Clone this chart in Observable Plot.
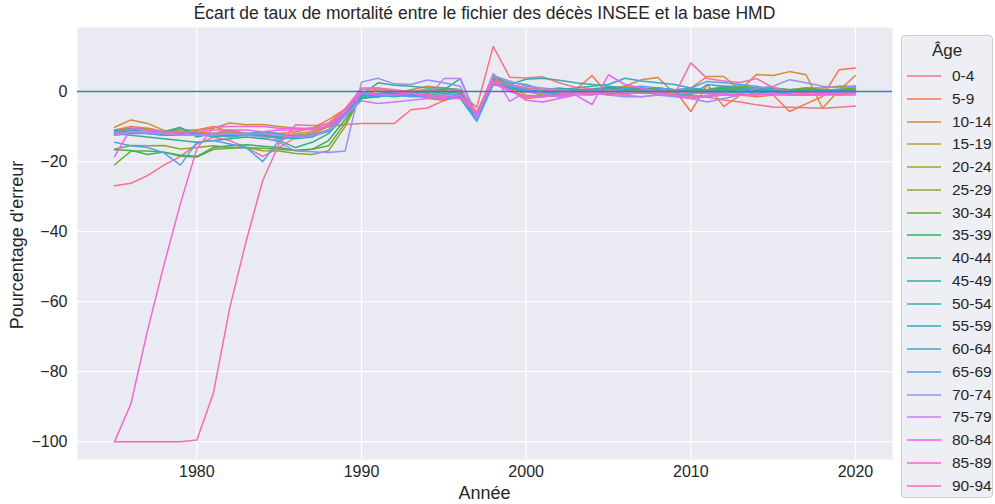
<!DOCTYPE html>
<html>
<head>
<meta charset="utf-8">
<script src="https://cdn.jsdelivr.net/npm/d3@7"></script>
<script src="https://cdn.jsdelivr.net/npm/@observablehq/plot@0.6"></script>
<style>
  body { margin: 0; background: #ffffff; }
  #wrap { position: relative; width: 995px; height: 504px; font-family: "Liberation Sans", Arial, sans-serif; color: #262626; }
  #title { position: absolute; left: 77px; width: 815px; top: 3px; text-align: center; font-size: 17.5px; }
  #xlabel { position: absolute; left: 77px; width: 815px; top: 483px; text-align: center; font-size: 18px; }
  #ylabel { position: absolute; left: 17px; top: 245px; transform: translate(-50%, -50%) rotate(-90deg); white-space: nowrap; font-size: 18px; }
  #legend { position: absolute; left: 901px; top: 35px; width: 92px; height: 463px; box-sizing: border-box; border: 1px solid #cccccc; border-radius: 4px; background: rgba(234,234,242,0.8); }
  #legend .lt { position: absolute; left: 0; width: 90px; top: 5px; text-align: center; font-size: 17px; }
  #legend .row { position: absolute; left: 0; height: 20px; width: 90px; }
  #legend svg { position: absolute; left: 4px; top: 0; }
  #legend .tx { position: absolute; left: 50px; top: 1px; font-size: 15.5px; white-space: nowrap; }
</style>
</head>
<body>
<div id="wrap">
  <div id="chart"></div>
  <div id="title"></div>
  <div id="xlabel"></div>
  <div id="ylabel"></div>
  <div id="legend"></div>
</div>
<script>
const titleText = "Écart de taux de mortalité entre le fichier des décès INSEE et la base HMD";
const xLabelText = "Année";
const yLabelText = "Pourcentage d'erreur";
const legendTitle = "Âge";

const years = d3.range(1975, 2021);
const ages = ["0-4","5-9","10-14","15-19","20-24","25-29","30-34","35-39","40-44","45-49","50-54","55-59","60-64","65-69","70-74","75-79","80-84","85-89","90-94"];
const xTicks = [1980, 1990, 2000, 2010, 2020];
const yTicks = [0, -20, -40, -60, -80, -100];

const s0_4   = [-26.9,-26.2,-24,-21,-18.5,-15,-13,-14,-16,-18.5,-16,-13,-12,-10,-9.4,-9.1,-9.1,-9.1,-5.2,-4.7,-2.6,-0.5,-4.5,12.9,4.1,3.9,4.2,2.5,1.2,0.8,1.2,0.5,-0.3,-0.8,-1,-1.4,-1.6,-2.4,-3,-3.8,-4.4,-4.5,-4.6,-4.8,-4.5,-4.1];
const s5_9   = [-11,-10,-10.5,-11.5,-12,-11,-10,-11.5,-12,-12.5,-12,-11.5,-10.5,-8,-5,-1,1,-0.5,-1,-1.5,-2.5,-1.5,-6,3,0.5,-1.5,-1,0,0.5,4.6,-1,0,1,-1,0.5,-5.7,2,-4.3,-1,-1.5,-1,-5.7,-3.5,-1.4,6.2,6.7];
const s10_14 = [-10.2,-8.1,-9.1,-11.1,-11.5,-11.5,-12,-11,-12,-12.5,-13,-12,-11.5,-9.5,-6,-1.5,0.5,-1,-0.5,-2,-2.5,-1,-7,4.5,1,-2,-1.5,-1,-0.5,0,0.5,1.5,3.4,4,-0.5,1,4.3,4.3,0.5,4.9,4.6,5.7,4.8,-4.7,0.3,4.6];
const s15_19 = [-11.5,-11,-10.5,-11.5,-11,-11,-10.5,-9,-9.5,-9.4,-10,-10.5,-10.5,-9,-5,-0.5,-1,-0.5,0.5,1.5,1,0.5,-6.5,5,1.5,-1,-1.5,-1,-0.5,-0.5,0.5,1,1,0,-0.5,-1,-1.5,0,1,0.5,1,-1,-0.5,0.5,0,1];
const s20_24 = [-12,-11.5,-11.5,-12.5,-12.5,-12,-12,-11.5,-12,-13,-13,-12.5,-12,-10,-6,-2,-1,0,0,0.5,0,0.5,-6,4,1,0,-1,-1.5,-0.5,0,1,1.5,0.5,0,0.5,0,0.5,1,1,0.5,0,-1,-0.5,0,0.5,1.5];
const s25_29 = [-16.5,-15.4,-15.5,-15.4,-16.4,-16,-15.5,-16,-16,-16.9,-17,-17.7,-18,-16.9,-10,-1,-1.5,-0.5,0,0.5,0.5,0,-6,3.5,1.5,0.5,-0.5,-1,0,0.5,1,0.5,0,1,0.5,0,0.5,1.5,1.5,1,1,0.5,1,1,1.5,1.5];
const s30_34 = [-20.9,-17,-17,-17.3,-18.5,-18.7,-16.5,-16.2,-16,-16.2,-16.5,-16.8,-16.5,-15.5,-9,-1.5,-1,-0.5,0,0,0.5,0,-6.5,2.5,1,0,-0.5,0,0.5,0.5,1,1,0.5,1,0.5,-0.5,0.5,1,1.5,1,0.5,0.5,1,0.5,0.5,1];
const s35_39 = [-16.6,-16.8,-18,-17.3,-18.2,-18.5,-16,-15.5,-15.2,-15.6,-16,-16.8,-16.5,-14,-8,-2,-1.5,-0.5,0,-0.5,0,-0.5,-7,2,1,0.5,-0.5,0,0,0.5,1,0.5,1,0.5,0,0.5,0.5,1,1,0.5,1,0.5,0.5,0.5,0.5,0.5];
const s40_44 = [-12,-12.5,-13,-13.5,-14,-14.5,-14,-13.5,-13,-13.5,-14,-16,-14.5,-12,-7,-1,2.5,1.8,1.5,1,1,0.5,-6.5,3,2,1,0.5,0,0.5,0.5,1,1,0.5,0,0,-0.5,0,0.5,0.5,0.5,0.5,0,0.5,0.5,0.5,0.5];
const s45_49 = [-11.2,-10.5,-11,-11.5,-10.5,-12,-12.5,-12.5,-12,-11.5,-12,-13,-12.5,-11,-6,-0.5,-1.5,-0.5,-0.5,0,0.5,3.7,-7,4,2.5,2,0.5,1,0.5,0,0.5,0,0,0,0.5,0,-0.5,0,0,0.5,0.5,0,0,0.5,0.5,0.5];
const s50_54 = [-12,-11,-11.5,-11.5,-10.2,-13,-12,-12.5,-12.5,-12.5,-13,-13.5,-13,-11,-6,-1,-0.5,0,-0.5,-1,-0.5,-1,-7.5,3,2,3.5,3.8,3.2,2.5,2,1.5,1,0.5,0,0,-0.5,-0.5,0,-0.5,0,0,0,0,0.5,0,0];
const s55_59 = [-12.2,-11.5,-12,-12.5,-12.5,-12,-13,-12.5,-12,-12.5,-13.5,-13,-12.5,-11,-6.5,-1.5,-1,-1.5,-1,-1,-1.5,-1.5,-8,2.5,1.5,0.5,0,0.5,1,1.5,2,3.8,3,2.5,2,1,0.5,0.5,0,-0.5,0,0,0,0,0,0];
const s60_64 = [-12.5,-12,-12,-12.5,-12,-12.5,-12.5,-13,-12.5,-12,-12.5,-13,-12.5,-11,-6,-1.5,-1.5,-1,-1,-1.5,-2,-2,-8.5,2,1,0,-0.5,-1,-0.5,0,-0.5,-0.5,-0.5,-0.5,-1,-1,2,1.5,1,0.5,0,-0.5,0,-0.5,0,0];
const s65_69 = [-14.5,-15.5,-16,-17.5,-21,-14.5,-14,-15,-16,-20,-14,-12.5,-12.5,-11.5,-6,0,-1,-1,-1.5,-1.5,-1,-1,-8,2.5,1.5,0.5,-0.5,-0.5,0,0.5,0,1,1.5,1,0.5,1,2.9,2.5,2,1.5,0.5,0,0,0,0,0];
const s70_74 = [-12,-11.5,-12,-12,-12.5,-12.5,-12,-12,-12.5,-13,-14.5,-17,-17.2,-17.4,-17,2.7,3.8,2.2,2,3.3,2.5,1.5,-7.5,4.5,3,1.5,1,0.5,0,-0.5,-1,-1.5,-1.5,-1,-1.5,-2,-3,-2,-1,1,1.5,3.4,2.5,1.5,1,1.5];
const s75_79 = [-12.5,-11.5,-11.5,-12,-12.5,-12.5,-12.5,-12,-12,-12,-12.5,-13,-12.5,-11,-7,-2.6,-3.4,-3,-2.5,-2,3.7,3.7,-7.5,5.1,-2.8,0,-0.5,-1.5,-1,-1,0,-1,-1.5,-1,-1,-2,-1.5,-1,-1,-1,-0.5,-1,-1,-1,-0.5,-0.5];
const s80_84 = [-18.6,-10.5,-11,-11.5,-11.5,-11.5,-11,-11,-11,-11.5,-11,-11,-10.5,-10,-6,-0.5,-1,-1,-0.5,-1.5,-2,-1,-6.5,3,0.5,-2.5,-3,-2,-1,-3.7,4.8,2,1,0,-1,-2,-1,-1,-1,-0.5,-1,-1,-1,-1,-1,-1];
const s85_89 = [-100,-89.1,-68.3,-49.5,-32,-16.3,-10.2,-10,-10,-10,-10.5,-10.5,-11,-10,-5,0.5,1,0,-0.5,-1,-1.5,-2,-6,2.5,0,-1.5,-1.5,-1,-0.5,-1,0.5,-0.5,-0.5,0,0,-0.5,-0.5,-0.5,-1,-1,-0.5,-1,-1,-0.5,-0.5,-0.5];
const s90_94 = [-100,-100,-100,-100,-100,-99.5,-86.2,-61.7,-42.6,-25.4,-14.9,-9.5,-9.7,-9.5,-5,1,1,0.5,0,0.5,0,0.5,-6,3,2,1,0.5,0,-0.5,0,-1,-1,0,-0.5,-1,8.2,3.7,3,2.6,3.7,1.1,0,-0.5,0,-1,-0.5];

const series = [s0_4,s5_9,s10_14,s15_19,s20_24,s25_29,s30_34,s35_39,s40_44,s45_49,s50_54,s55_59,s60_64,s65_69,s70_74,s75_79,s80_84,s85_89,s90_94];

// seaborn husl_palette
function huslPalette(n, h = 0.01, s = 0.9, l = 0.65) {
  const m = [[3.2406, -1.5372, -0.4986], [-0.9689, 1.8758, 0.0415], [0.0557, -0.2040, 1.0570]];
  const refU = 0.19784, refV = 0.46834, labE = 0.008856, labK = 903.3;
  function maxChroma(L, H) {
    const hr = H * Math.PI / 180, sinH = Math.sin(hr), cosH = Math.cos(hr);
    const sub1 = Math.pow(L + 16, 3) / 1560896.0;
    const sub2 = sub1 > 0.008856 ? sub1 : L / 903.3;
    let result = Infinity;
    for (const [m1, m2, m3] of m) {
      const top = (0.99915 * m1 + 1.05122 * m2 + 1.14460 * m3) * sub2;
      const rb = 0.86330 * m3 - 0.17266 * m2;
      const lb = 0.12949 * m3 - 0.38848 * m1;
      const bottom = (rb * sinH + lb * cosH) * sub2;
      for (const t of [0, 1]) {
        const C = L * (top - 1.05122 * t) / (bottom + 0.17266 * sinH * t);
        if (C > 0 && C < result) result = C;
      }
    }
    return result;
  }
  function fInv(t) { return Math.pow(t, 3) > labE ? Math.pow(t, 3) : (116 * t - 16) / labK; }
  function fromLinear(c) { return c <= 0.0031308 ? 12.92 * c : 1.055 * Math.pow(c, 1 / 2.4) - 0.055; }
  function huslToRgb(H, S, L) {
    const C = maxChroma(L, H) / 100 * S;
    const hr = H * Math.PI / 180;
    const U = Math.cos(hr) * C, V = Math.sin(hr) * C;
    const varY = fInv((L + 16) / 116);
    const varU = U / (13 * L) + refU, varV = V / (13 * L) + refV;
    const Y = varY;
    const X = 0 - (9 * Y * varU) / ((varU - 4) * varV - varU * varV);
    const Z = (9 * Y - 15 * varV * Y - varV * X) / (3 * varV);
    return m.map(r => Math.min(1, Math.max(0, fromLinear(r[0] * X + r[1] * Y + r[2] * Z))));
  }
  const out = [];
  for (let i = 0; i < n; i++) {
    let hue = (i / n + h) % 1;
    const rgb = huslToRgb(hue * 359, s * 99, l * 99);
    out.push(d3.rgb(rgb[0] * 255, rgb[1] * 255, rgb[2] * 255).formatHex());
  }
  return out;
}
const colors = huslPalette(ages.length);

const data = [];
ages.forEach((a, i) => years.forEach((y, j) => data.push({age: a, year: y, value: series[i][j]})));

const chart = Plot.plot({
  width: 995,
  height: 504,
  marginLeft: 77,
  marginRight: 103,
  marginTop: 27,
  marginBottom: 45,
  style: {fontFamily: "'Liberation Sans', Arial, sans-serif", fontSize: "16px", color: "#262626", background: "transparent"},
  x: {domain: [1972.75, 2022.25], ticks: xTicks, tickFormat: d3.format("d"), tickSize: 0, tickPadding: 6, label: null},
  y: {domain: [-105.1, 18.3], ticks: yTicks, tickSize: 0, tickPadding: 10, label: null},
  color: {domain: ages, range: colors},
  marks: [
    Plot.frame({fill: "#EAEAF2", stroke: null}),
    Plot.gridX(xTicks, {stroke: "#ffffff", strokeOpacity: 1, strokeWidth: 1.2}),
    Plot.gridY(yTicks, {stroke: "#ffffff", strokeOpacity: 1, strokeWidth: 1.2}),
    Plot.line(data, {x: "year", y: "value", stroke: "age", z: "age", strokeWidth: 1.5}),
    Plot.ruleY([0], {stroke: "#4c72b0", strokeWidth: 1.5})
  ]
});
document.getElementById("chart").appendChild(chart);

document.getElementById("title").textContent = titleText;
document.getElementById("xlabel").textContent = xLabelText;
document.getElementById("ylabel").textContent = yLabelText;

const svgNS = "http://www.w3.org/2000/svg";
const lg = document.getElementById("legend");
const lt = document.createElement("div");
lt.className = "lt"; lt.textContent = legendTitle; lg.appendChild(lt);
ages.forEach((a, i) => {
  const row = document.createElement("div");
  row.className = "row";
  row.style.top = (30 + i * 22.75) + "px";
  const sv = document.createElementNS(svgNS, "svg");
  sv.setAttribute("width", "38"); sv.setAttribute("height", "20");
  const ln = document.createElementNS(svgNS, "line");
  ln.setAttribute("x1", "1"); ln.setAttribute("x2", "35");
  ln.setAttribute("y1", "10"); ln.setAttribute("y2", "10");
  ln.setAttribute("stroke", colors[i]); ln.setAttribute("stroke-width", "1.5");
  sv.appendChild(ln);
  const tx = document.createElement("div");
  tx.className = "tx"; tx.textContent = a;
  row.appendChild(sv); row.appendChild(tx);
  lg.appendChild(row);
});
</script>
</body>
</html>
